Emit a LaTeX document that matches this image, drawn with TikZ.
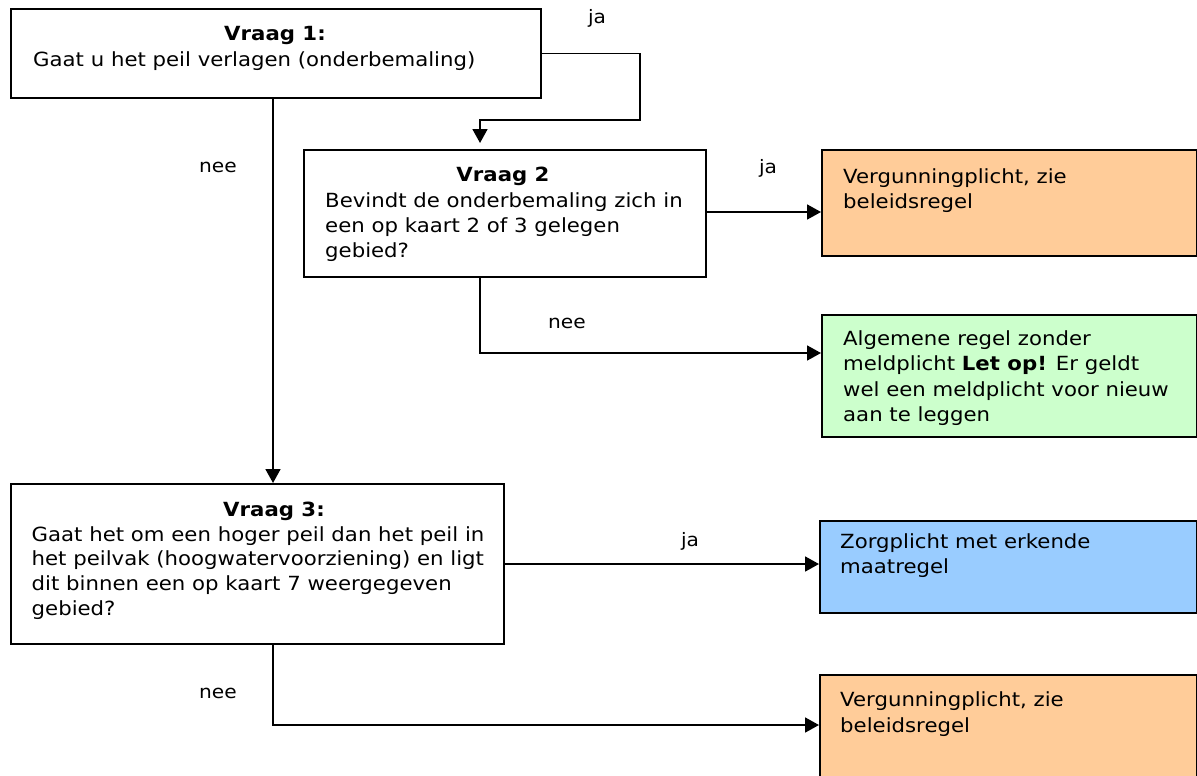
\documentclass[tikz,border=0pt]{standalone}
\usepackage{fontspec}
\setmainfont{DejaVu Sans}[FakeStretch=1.09]
\usetikzlibrary{arrows.meta}
\definecolor{orangebox}{HTML}{FFCC99}
\definecolor{greenbox}{HTML}{CCFFCC}
\definecolor{bluebox}{HTML}{99CCFF}
\tikzset{
  box/.style={draw, line width=2pt, anchor=north west, inner sep=0pt},
  txt/.style={font=\fontsize{19.5}{24.8}\selectfont, inner sep=0pt, align=left, anchor=base west},
  rtxt/.style={txt, font=\fontsize{19.5}{25.4}\selectfont},
  head/.style={font=\fontsize{19.5}{24.8}\selectfont\bfseries, inner sep=0pt, anchor=base},
  lbl/.style={font=\fontsize{18.5}{22}\selectfont, inner sep=0pt},
  arr/.style={line width=1.8pt, -{Triangle[length=14pt,width=15pt]}},
}
\begin{document}
\begin{tikzpicture}[x=1pt,y=-1pt]
\useasboundingbox (0,0) rectangle (1197,776);
\clip (0,0) rectangle (1197,776);
% boxes
\node[box, minimum width=530, minimum height=89] (q1) at (10,8) {};
\node[box, minimum width=402, minimum height=127] (q2) at (303,149) {};
\node[box, minimum width=493, minimum height=160] (q3) at (10,483) {};
\node[box, fill=orangebox, minimum width=375, minimum height=106] (r1) at (821,149) {};
\node[box, fill=greenbox, minimum width=375, minimum height=122] (r2) at (821,314) {};
\node[box, fill=bluebox, minimum width=377, minimum height=92] (r3) at (819,520) {};
\node[box, fill=orangebox, minimum width=377, minimum height=130] (r4) at (819,674) {};
% texts (multi-line nodes: base = last line's baseline)
\node[head] (q1h) at (275,41) {Vraag 1:};
\node[txt] (q1t) at (33,66.5) {Gaat u het peil verlagen (onderbemaling)};
\node[head] (q2h) at (503,181.5) {Vraag 2};
\node[txt] (q2t) at (325,257) {Bevindt de onderbemaling zich in\\een op kaart 2 of 3 gelegen\\gebied?};
\node[head] (q3h) at (274,516.5) {Vraag 3:};
\node[txt] (q3t) at (31.5,615.4) {Gaat het om een hoger peil dan het peil in\\het peilvak (hoogwatervoorziening) en ligt\\dit binnen een op kaart 7 weergegeven\\gebied?};
\node[rtxt] (r1t) at (843,208.4) {Vergunningplicht, zie\\beleidsregel};
\node[rtxt] (r2t) at (843,421.7) {Algemene regel zonder\\meldplicht \textbf{Let op!} Er geldt\\wel een meldplicht voor nieuw\\aan te leggen};
\node[rtxt] (r3t) at (840,573.5) {Zorgplicht met erkende\\maatregel};
\node[rtxt] (r4t) at (840,732) {Vergunningplicht, zie\\beleidsregel};
% connector points
\coordinate (c1) at (640,120);
\coordinate (q2in) at (480,143);
\coordinate (q2out) at (480,276);
\coordinate (r1in) at (821,212);
\coordinate (r2in) at (821,353);
\coordinate (q1out) at (273,97);
\coordinate (q3out) at (273,643);
\coordinate (r4in) at (819,725);
% connectors
\draw[arr] (q1.east) -| (c1) -| (q2in);
\draw[arr] (q2.east |- r1in) -- (r1in);
\draw[arr] (q2out) |- (r2in);
\draw[arr] (q1out) -- (q1out |- q3.north);
\draw[arr] (q3.east) -- (q3.east -| r3.west);
\draw[arr] (q3out) |- (r4in);
% labels
\node[lbl] (l1) at (597,18) {ja};
\node[lbl] (l2) at (218,167) {nee};
\node[lbl] (l3) at (768,168) {ja};
\node[lbl] (l4) at (567,323) {nee};
\node[lbl] (l5) at (690,541) {ja};
\node[lbl] (l6) at (218,693) {nee};
\end{tikzpicture}
\end{document}
